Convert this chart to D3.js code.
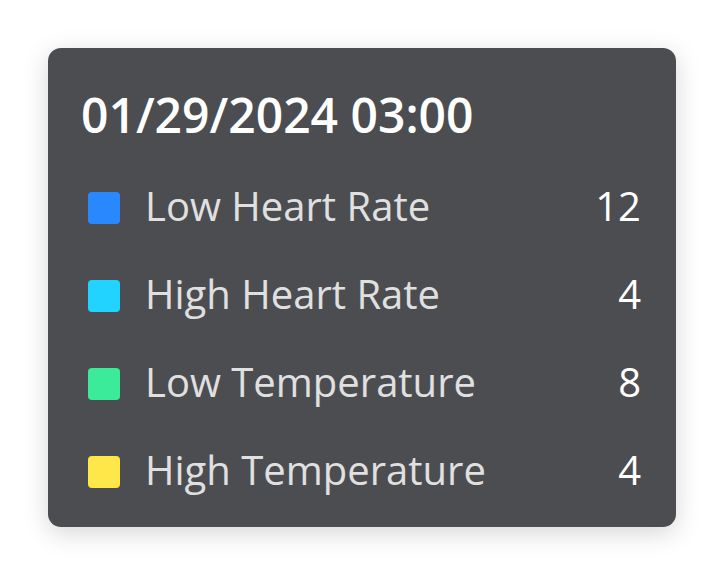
<!DOCTYPE html>
<html>
<head>
<meta charset="utf-8">
<script src="https://cdn.jsdelivr.net/npm/d3@7"></script>
<style>
  html, body { margin: 0; padding: 0; background: #ffffff; }
  svg { display: block; }
</style>
</head>
<body>
<svg id="chart" width="724" height="576"></svg>
<script>
const title = "01/29/2024 03:00";
const categories = ["Low Heart Rate", "High Heart Rate", "Low Temperature", "High Temperature"];
const values = [12, 4, 8, 4];
const colors = ["#2a88ff", "#22d3ff", "#3ceb9a", "#ffe74a"];

const W = 724, H = 576;
const svg = d3.select("#chart");

const defs = svg.append("defs");
const f = defs.append("filter").attr("id", "shadow")
  .attr("x", "-20%").attr("y", "-20%").attr("width", "140%").attr("height", "140%");
f.append("feDropShadow").attr("dx", 0).attr("dy", 6).attr("stdDeviation", 12)
  .attr("flood-color", "#000").attr("flood-opacity", 0.16);

const card = { x: 48, y: 48, w: 628, h: 479 };
svg.append("rect")
  .attr("x", card.x).attr("y", card.y)
  .attr("width", card.w).attr("height", card.h)
  .attr("rx", 13).attr("ry", 13)
  .attr("fill", "#4b4e51")
  .attr("filter", "url(#shadow)");

svg.append("text")
  .attr("x", 81).attr("y", 133)
  .attr("font-family", "'Open Sans', sans-serif")
  .attr("font-weight", 600)
  .attr("font-size", 48)
  .attr("fill", "#ffffff")
  .text(title);

const y = d3.scaleBand()
  .domain(categories)
  .range([164, 516])
  .paddingInner(0).paddingOuter(0);

const rows = svg.append("g").selectAll("g")
  .data(categories.map((c, i) => ({ c, v: values[i], col: colors[i] })))
  .join("g")
  .attr("transform", d => `translate(0,${y(d.c) + y.bandwidth() / 2})`);

rows.append("rect")
  .attr("x", 88).attr("y", -16)
  .attr("width", 32).attr("height", 32)
  .attr("rx", 4).attr("ry", 4)
  .attr("fill", d => d.col);

rows.append("text")
  .attr("x", 145).attr("y", 13)
  .attr("font-family", "'Open Sans', sans-serif")
  .attr("font-weight", 400)
  .attr("font-size", 40)
  .attr("fill", "#e0e0e0")
  .text(d => d.c);

rows.append("text")
  .attr("x", 641).attr("y", 13)
  .attr("text-anchor", "end")
  .attr("font-family", "'Open Sans', sans-serif")
  .attr("font-weight", 400)
  .attr("font-size", 40)
  .attr("fill", "#ffffff")
  .text(d => d.v);
</script>
</body>
</html>
